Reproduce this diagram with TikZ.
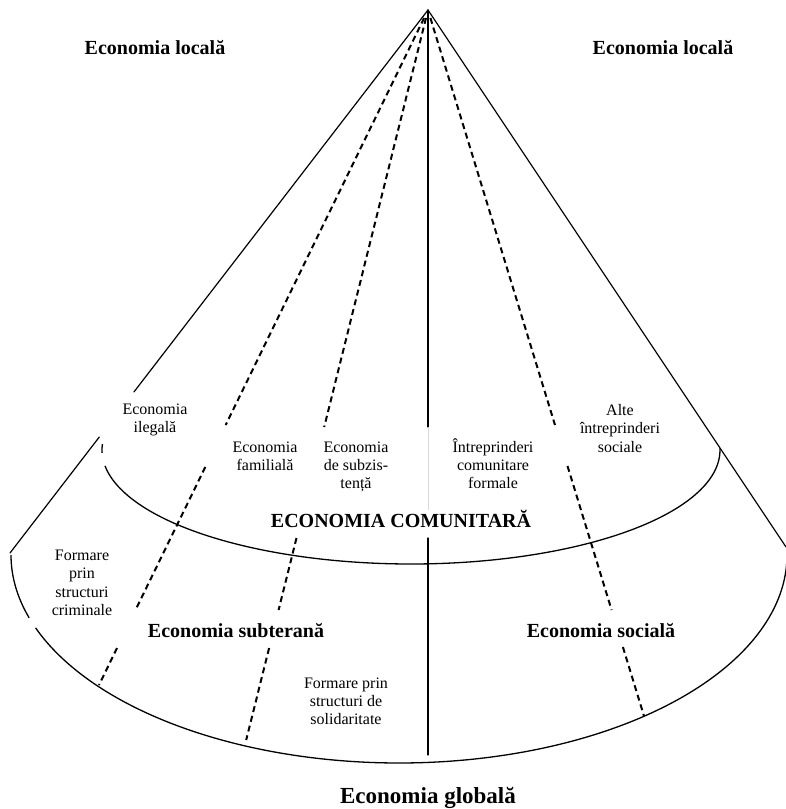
\documentclass[tikz,border=0pt]{standalone}
\usepackage{fontspec}
\setmainfont{Liberation Serif}
\begin{document}
\begin{tikzpicture}[x=1pt,y=-1pt,
  solidln/.style={line width=1.2pt, line cap=round},
  dashln/.style={line width=2pt, dash pattern=on 6pt off 4pt},
  faintln/.style={line width=0.8pt, draw=black!15},
  curveln/.style={line width=1.3pt, smooth, samples=120},
  small/.style={font=\fontsize{16}{18}\selectfont, inner sep=0pt, anchor=base},
  boldlbl/.style={font=\fontsize{20}{24}\selectfont\bfseries, inner sep=0pt, anchor=base},
  biglbl/.style={font=\fontsize{23}{27}\selectfont\bfseries, inner sep=0pt, anchor=base}]
\useasboundingbox (0,0) rectangle (786,809);
\clip (0,0) rectangle (786,809);

\coordinate (apex) at (428,10);

% cone sides
\coordinate (L1) at (133.9,392);
\coordinate (L2) at (99.3,437);
\coordinate (L3) at (10,553);
\coordinate (R1) at (786,547);
\draw[solidln] (apex) -- (L1);
\draw[solidln] (L2) -- (L3);
\draw[solidln] (apex) -- (R1);

% central axis
\coordinate (C1) at (428,427);
\coordinate (C2) at (428,510);
\coordinate (C3) at (428,538);
\coordinate (C4) at (428,755);
\draw[solidln] (apex) -- (C1);
\draw[faintln] (C1) -- (C2);
\draw[solidln] (C3) -- (C4);

% dashed line 1
\coordinate (a0) at (424.1,18);
\coordinate (a1) at (225.7,425);
\coordinate (a2) at (205.3,467);
\coordinate (a3) at (136.5,608);
\coordinate (a4) at (117,648);
\coordinate (a5) at (99,685);
\draw[dashln] (a0) -- (a1);
\draw[dashln] (a2) -- (a3);
\draw[dashln] (a4) -- (a5);

% dashed line 2
\coordinate (b0) at (426,18);
\coordinate (b1) at (324.2,427);
\coordinate (b2) at (296.5,538);
\coordinate (b3) at (278.6,610);
\coordinate (b4) at (269.1,648);
\coordinate (b5) at (246.2,740);
\draw[dashln] (b0) -- (b1);
\draw[dashln] (b2) -- (b3);
\draw[dashln] (b4) -- (b5);

% dashed line 3
\coordinate (c0) at (430.4,18);
\coordinate (c1) at (555,425);
\coordinate (c2) at (567.5,466);
\coordinate (c3) at (611.6,610);
\coordinate (c4) at (622.9,647);
\coordinate (c5) at (644,716);
\draw[dashln] (c0) -- (c1);
\draw[dashln] (c2) -- (c3);
\draw[dashln] (c4) -- (c5);

% inner ellipse (lower half)
\draw[curveln] plot[domain=178.5:183, variable=\t] ({411+309*cos(\t)},{450+114*sin(\t)});
\draw[curveln] plot[domain=-1:172, variable=\t] ({411+309*cos(\t)},{450+114*sin(\t)});

% outer ellipse (lower half)
\draw[curveln] plot[domain=162.4:180, variable=\t] ({399+388*cos(\t)},{555+208*sin(\t)});
\draw[curveln] plot[domain=0:159.5, variable=\t] ({399+388*cos(\t)},{555+208*sin(\t)});

% labels
\node[boldlbl] (locL) at (155,54) {Economia locală};
\node[boldlbl] (locR) at (663,54) {Economia locală};

\node[small] (ileg1) at (155,414) {Economia};
\node[small] (ileg2) at (155,432) {ilegală};

\node[small] (fam1) at (265,452) {Economia};
\node[small] (fam2) at (265,470) {familială};

\node[small] (sub1) at (356,452) {Economia};
\node[small] (sub2) at (356,470) {de subzis-};
\node[small] (sub3) at (356,488) {tență};

\node[small] (intr1) at (493,452) {Întreprinderi};
\node[small] (intr2) at (493,470) {comunitare};
\node[small] (intr3) at (493,488) {formale};

\node[small] (alte1) at (620,415) {Alte};
\node[small] (alte2) at (620,433.5) {întreprinderi};
\node[small] (alte3) at (620,452) {sociale};

\node[boldlbl] (comun) at (401,527) {ECONOMIA COMUNITARĂ};

\node[small] (crim1) at (82,560) {Formare};
\node[small] (crim2) at (82,578) {prin};
\node[small] (crim3) at (82,597) {structuri};
\node[small] (crim4) at (82,615) {criminale};

\node[boldlbl] (subt) at (236,637) {Economia subterană};
\node[boldlbl] (soc) at (601,637) {Economia socială};

\node[small] (sol1) at (346,688) {Formare prin};
\node[small] (sol2) at (346,706) {structuri de};
\node[small] (sol3) at (346,724) {solidaritate};

\node[biglbl] (glob) at (428,803) {Economia globală};
\end{tikzpicture}
\end{document}
